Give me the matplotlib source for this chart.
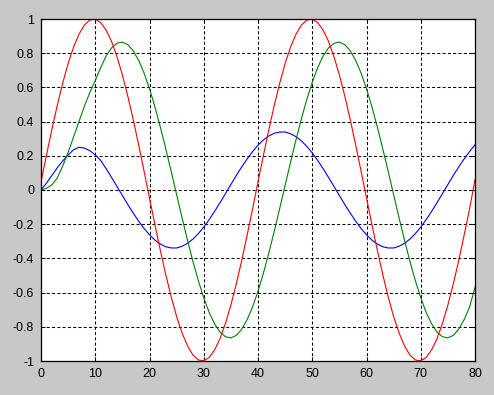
import matplotlib
matplotlib.use("Agg")
import matplotlib.pyplot as plt
from matplotlib.ticker import FixedLocator, FixedFormatter

plt.rcParams['axes.unicode_minus'] = False
plt.rcParams['lines.scale_dashes'] = False

x = list(range(0, 81))

red = [0.047, 0.203, 0.353, 0.495, 0.625, 0.740, 0.836, 0.911, 0.965, 0.994,
       0.999, 0.979, 0.935, 0.869, 0.780, 0.673, 0.549, 0.412, 0.264, 0.110,
       -0.047, -0.203, -0.353, -0.495, -0.625, -0.740, -0.836, -0.911, -0.965, -0.994,
       -0.999, -0.979, -0.935, -0.869, -0.780, -0.673, -0.549, -0.412, -0.264, -0.110,
       0.047, 0.203, 0.353, 0.495, 0.625, 0.740, 0.836, 0.911, 0.965, 0.994,
       0.999, 0.979, 0.935, 0.869, 0.780, 0.673, 0.549, 0.412, 0.264, 0.110,
       -0.047, -0.203, -0.353, -0.495, -0.625, -0.740, -0.836, -0.911, -0.965, -0.994,
       -0.999, -0.979, -0.935, -0.869, -0.780, -0.673, -0.549, -0.412, -0.264, -0.110,
       0.060]

green = [0.0, 0.01, 0.03, 0.07, 0.14, 0.22, 0.31, 0.40, 0.49, 0.57,
         0.64, 0.716, 0.783, 0.831, 0.858, 0.865, 0.850, 0.814, 0.758, 0.684,
         0.592, 0.486, 0.368, 0.241, 0.108, -0.027, -0.162, -0.293, -0.417, -0.530,
         -0.630, -0.716, -0.783, -0.831, -0.858, -0.865, -0.850, -0.814, -0.758, -0.684,
         -0.592, -0.486, -0.368, -0.241, -0.108, 0.027, 0.162, 0.293, 0.417, 0.530,
         0.630, 0.716, 0.783, 0.831, 0.858, 0.865, 0.850, 0.814, 0.758, 0.684,
         0.592, 0.486, 0.368, 0.241, 0.108, -0.027, -0.162, -0.293, -0.417, -0.530,
         -0.630, -0.716, -0.783, -0.831, -0.858, -0.865, -0.850, -0.814, -0.758, -0.684,
         -0.570]

blue = [0.0, 0.04, 0.085, 0.13, 0.17, 0.205, 0.235, 0.25, 0.245, 0.23,
        0.205, 0.173, 0.125, 0.074, 0.021, -0.032, -0.085, -0.135, -0.182, -0.225,
        -0.262, -0.293, -0.316, -0.332, -0.339, -0.339, -0.329, -0.312, -0.287, -0.255,
        -0.217, -0.173, -0.125, -0.074, -0.021, 0.032, 0.085, 0.135, 0.182, 0.225,
        0.262, 0.293, 0.316, 0.332, 0.339, 0.339, 0.329, 0.312, 0.287, 0.255,
        0.217, 0.173, 0.125, 0.074, 0.021, -0.032, -0.085, -0.135, -0.182, -0.225,
        -0.262, -0.293, -0.316, -0.332, -0.339, -0.339, -0.329, -0.312, -0.287, -0.255,
        -0.217, -0.173, -0.125, -0.074, -0.021, 0.032, 0.085, 0.135, 0.182, 0.225,
        0.265]

xticks = [0, 10, 20, 30, 40, 50, 60, 70, 80]
yticks = [-1, -0.8, -0.6, -0.4, -0.2, 0, 0.2, 0.4, 0.6, 0.8, 1]
ytick_labels = ["-1", "-0.8", "-0.6", "-0.4", "-0.2", "0", "0.2", "0.4", "0.6", "0.8", "1"]
xtick_labels = ["0", "10", "20", "30", "40", "50", "60", "70", "80"]

fig = plt.figure(figsize=(4.94, 3.95), dpi=100, facecolor='#c8c8c8')
ax = fig.add_axes([41/494, 1 - 361/395, (475 - 41)/494, (361 - 19)/395])
ax.set_facecolor('white')

ax.plot(x, blue, color='#0000ff', lw=0.8)
ax.plot(x, green, color='#008000', lw=0.8)
ax.plot(x, red, color='#ff0000', lw=0.8)

ax.set_xlim(0, 80)
ax.set_ylim(-1, 1)
ax.xaxis.set_major_locator(FixedLocator(xticks))
ax.xaxis.set_major_formatter(FixedFormatter(xtick_labels))
ax.yaxis.set_major_locator(FixedLocator(yticks))
ax.yaxis.set_major_formatter(FixedFormatter(ytick_labels))

ax.grid(True, color='black', linestyle=(0, (2.2, 1.6)), linewidth=0.75)
ax.set_axisbelow(True)
for s in ax.spines.values():
    s.set_linewidth(0.9)
    s.set_color('black')

ax.tick_params(direction='in', length=3, width=0.75, top=True, right=True,
               labelsize=9, pad=5, colors='black')
for lab in ax.get_xticklabels() + ax.get_yticklabels():
    lab.set_fontfamily('Liberation Sans')

fig.savefig('out.png', dpi=100, facecolor=fig.get_facecolor())
